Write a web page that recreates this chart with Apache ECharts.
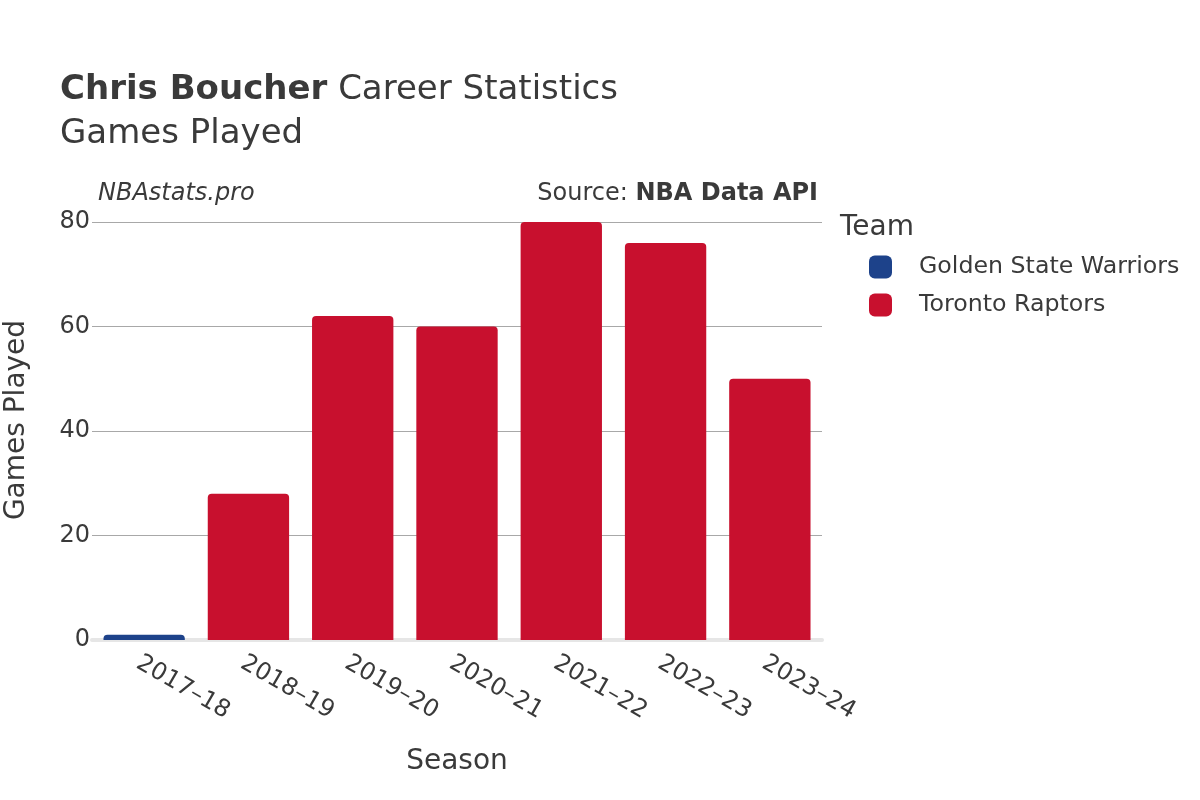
<!DOCTYPE html>
<html>
<head>
<meta charset="utf-8">
<script src="https://cdn.jsdelivr.net/npm/echarts@6/dist/echarts.min.js"></script>
<style>
  html, body { margin: 0; padding: 0; background: #fff; }
  #chart { width: 1200px; height: 800px; }
</style>
</head>
<body>
<div id="chart"></div>
<script>
const seasons = ['2017–18', '2018–19', '2019–20', '2020–21', '2021–22', '2022–23', '2023–24']
const gswGames = [1, null, null, null, null, null, null]
const torGames = [null, 28, 62, 60, 80, 76, 50]
const yTicks = [0, 20, 40, 60, 80]

const font = 'DejaVu Sans'
const chart = echarts.init(document.getElementById('chart'), null, { renderer: 'canvas' })

const option = {
  backgroundColor: '#fff',
  textStyle: { fontFamily: font },
  title: {
    left: 55,
    top: 63,
    text: '{b|Chris Boucher} Career Statistics\nGames Played',
    textStyle: {
      fontFamily: font,
      fontSize: 34,
      fontWeight: 'normal',
      color: '#3a3a3a',
      lineHeight: 44,
      rich: {
        b: { fontFamily: font, fontSize: 34, fontWeight: 'bold', color: '#3a3a3a' }
      }
    }
  },
  graphic: [
    { type: 'text', left: 98, top: 182, style: { text: 'NBAstats.pro', font: 'italic 24px "DejaVu Sans"', fill: '#3a3a3a' } },
    { type: 'text', right: 382, top: 182, style: {
      text: '{n|Source: }{b|NBA Data API}',
      rich: {
        n: { fontFamily: font, fontSize: 24, fill: '#3a3a3a', color: '#3a3a3a' },
        b: { fontFamily: font, fontSize: 24, fontWeight: 'bold', fill: '#3a3a3a', color: '#3a3a3a' }
      }
    } },
    { type: 'text', left: 840, top: 214, style: { text: 'Team', font: '28px "DejaVu Sans"', fill: '#3a3a3a' } },
    { type: 'text', x: 17, y: 420, rotation: Math.PI / 2, style: {
      text: 'Games Played', font: '28px "DejaVu Sans"', fill: '#3a3a3a', align: 'center', verticalAlign: 'middle'
    } }
  ],
  legend: {
    orient: 'vertical',
    left: 864,
    top: 250,
    itemWidth: 23,
    itemHeight: 23,
    itemGap: 14,
    icon: 'roundRect',
    textStyle: { fontFamily: font, fontSize: 23.7, color: '#3a3a3a', padding: [0, 0, 0, 22] },
    data: ['Golden State Warriors', 'Toronto Raptors']
  },
  grid: { left: 92, right: 378, top: 222, bottom: 160, containLabel: false },
  xAxis: {
    type: 'category',
    data: seasons,
    name: 'Season',
    nameLocation: 'middle',
    nameGap: 108,
    nameTextStyle: { fontFamily: font, fontSize: 28, color: '#3a3a3a' },
    axisLine: { show: true, lineStyle: { color: '#e6e6e6', width: 4 } },
    axisTick: { show: false },
    axisLabel: {
      rotate: -30,
      fontFamily: font,
      fontSize: 24,
      color: '#3a3a3a',
      margin: 11,
      align: 'left',
      verticalAlign: 'top'
    }
  },
  yAxis: {
    type: 'value',
    min: 0,
    max: 80,
    interval: 20,
    axisLine: { show: false },
    axisTick: { show: false },
    splitLine: { lineStyle: { color: '#a8a8a8', width: 1 } },
    axisLabel: {
      fontFamily: font,
      fontSize: 24,
      color: '#3a3a3a',
      margin: 2,
      padding: [4, 0, 0, 0],
      formatter: v => (yTicks.includes(v) ? String(v) : '')
    }
  },
  series: [
    {
      name: 'Golden State Warriors',
      type: 'bar',
      stack: 'g',
      data: gswGames,
      barWidth: '78%',
      itemStyle: { color: '#1d428a', borderRadius: [4, 4, 0, 0] }
    },
    {
      name: 'Toronto Raptors',
      type: 'bar',
      stack: 'g',
      data: torGames,
      barWidth: '78%',
      itemStyle: { color: '#c8102e', borderRadius: [4, 4, 0, 0] }
    }
  ]
}

chart.setOption(option)
</script>
</body>
</html>
